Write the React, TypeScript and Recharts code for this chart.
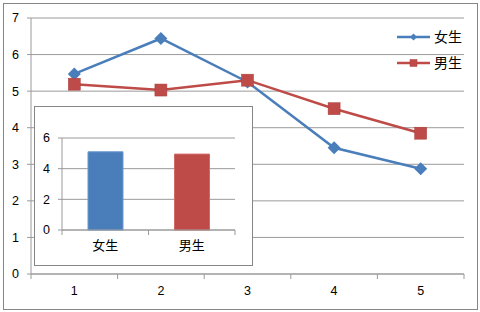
import React from 'react';
import { LineChart, Line, XAxis, YAxis, CartesianGrid, BarChart, Bar, Cell } from 'recharts';

const rounds = [1, 2, 3, 4, 5];
const girls = [5.47, 6.44, 5.25, 3.45, 2.88];
const boys = [5.19, 5.03, 5.3, 4.52, 3.85];
const yTicks = [0, 1, 2, 3, 4, 5, 6, 7];

const barLabels = ['女生', '男生'];
const barValues = [5.1, 4.95];
const barTicks = [0, 2, 4, 6];

const BLUE = '#4A7EBB';
const RED = '#BE4B48';
const GRID = '#9a9a9a';
const FONT = '"Liberation Sans", "Noto Sans CJK SC", sans-serif';
const CJK = '"Noto Sans CJK SC", sans-serif';

const lineData = rounds.map((r, i) => ({ round: r, girls: girls[i], boys: boys[i] }));
const barData = barLabels.map((name, i) => ({ name, value: barValues[i] }));
const barColors = [BLUE, RED];

const diamond = (cx: number, cy: number, r: number, key: string) => (
  <path key={key} d={`M${cx},${cy - r}L${cx + r},${cy}L${cx},${cy + r}L${cx - r},${cy}Z`} fill={BLUE} />
);

const square = (cx: number, cy: number, s: number, key: string) => (
  <rect key={key} x={cx - s} y={cy - s} width={s * 2} height={s * 2} fill={RED} stroke="#a8403d" strokeWidth={0.5} />
);

const girlDot = (p: any) => (p.cx == null ? <g key={`gd${p.index}`} /> : diamond(p.cx, p.cy, 6.5, `gd${p.index}`));
const boyDot = (p: any) => (p.cx == null ? <g key={`bd${p.index}`} /> : square(p.cx, p.cy, 6, `bd${p.index}`));

// category axis look: labels in the middle, tick marks on the band edges
const BAND = 86.6;
const RoundTick = (props: any) => {
  const { x, y, payload, index } = props;
  return (
    <g>
      <line x1={x - BAND / 2} x2={x - BAND / 2} y1={y - 8} y2={y - 3} stroke={GRID} />
      {index === rounds.length - 1 && <line x1={x + BAND / 2} x2={x + BAND / 2} y1={y - 8} y2={y - 3} stroke={GRID} />}
      <text x={x} y={y + 13} textAnchor="middle" fontSize={12.5} fontFamily={FONT} fill="#000">{payload.value}</text>
    </g>
  );
};

const BAR_BAND = 86.5;
const BarTick = (props: any) => {
  const { x, y, payload, index } = props;
  return (
    <g>
      <line x1={x - BAR_BAND / 2} x2={x - BAR_BAND / 2} y1={y - 8} y2={y - 3} stroke={GRID} />
      {index === barLabels.length - 1 && <line x1={x + BAR_BAND / 2} x2={x + BAR_BAND / 2} y1={y - 8} y2={y - 3} stroke={GRID} />}
      <text x={x} y={y + 12} textAnchor="middle" fontSize={13} fontFamily={CJK} fill="#000">{payload.value}</text>
    </g>
  );
};

const LegendBox = () => (
  <svg width={80} height={50} style={{ position: 'absolute', left: 396, top: 26 }}>
    <line x1={1} x2={34} y1={11} y2={11} stroke={BLUE} strokeWidth={2.5} />
    {diamond(17.5, 11, 3.5, 'lg')}
    <text x={38} y={16} fontSize={14} fontFamily={CJK} fill="#000">女生</text>
    <line x1={1} x2={34} y1={37} y2={37} stroke={RED} strokeWidth={2.5} />
    {square(17.5, 37, 3.5, 'lb')}
    <text x={38} y={42} fontSize={14} fontFamily={CJK} fill="#000">男生</text>
  </svg>
);

export default function App() {
  return (
    <div style={{ position: 'absolute', left: 0, top: 0, width: 480, height: 312, background: '#fff' }}>
      <div style={{ position: 'absolute', left: 3, top: 3, width: 473, height: 305, border: '1px solid #868686' }} />
      <div style={{ position: 'absolute', left: 0, top: 0 }}>
        <LineChart width={480} height={312} data={lineData} margin={{ top: 18, right: 16, left: 0, bottom: 0 }}>
          <CartesianGrid vertical={false} stroke={GRID} />
          <XAxis
            dataKey="round"
            type="number"
            domain={[0.5, 5.5]}
            ticks={rounds}
            height={38}
            stroke={GRID}
            tickLine={false}
            tick={<RoundTick />}
          />
          <YAxis
            domain={[0, 7]}
            ticks={yTicks}
            width={31}
            stroke={GRID}
            tickSize={4}
            tickMargin={8}
            tick={{ fontSize: 12.5, fontFamily: FONT, fill: '#000' }}
          />
          <Line dataKey="girls" stroke={BLUE} strokeWidth={2.5} dot={girlDot} activeDot={false} isAnimationActive={false} />
          <Line dataKey="boys" stroke={RED} strokeWidth={2.5} dot={boyDot} activeDot={false} isAnimationActive={false} />
        </LineChart>
      </div>
      <LegendBox />
      <div style={{ position: 'absolute', left: 34, top: 106, width: 217, height: 158, border: '1px solid #868686', background: '#fff' }}>
        <BarChart width={217} height={158} data={barData} margin={{ top: 31, right: 17, left: 0, bottom: 0 }} barSize={35}>
          <CartesianGrid vertical={false} stroke={GRID} />
          <XAxis dataKey="name" height={35} stroke={GRID} tickLine={false} tick={<BarTick />} />
          <YAxis domain={[0, 6]} ticks={barTicks} width={27} stroke={GRID} tickSize={4} tickMargin={8} tick={{ fontSize: 12.5, fontFamily: FONT, fill: '#000' }} />
          <Bar dataKey="value" isAnimationActive={false}>
            {barData.map((d, i) => (
              <Cell key={d.name} fill={barColors[i]} stroke={i === 0 ? '#6c97cc' : '#cf6a67'} strokeWidth={1} />
            ))}
          </Bar>
        </BarChart>
      </div>
    </div>
  );
}
